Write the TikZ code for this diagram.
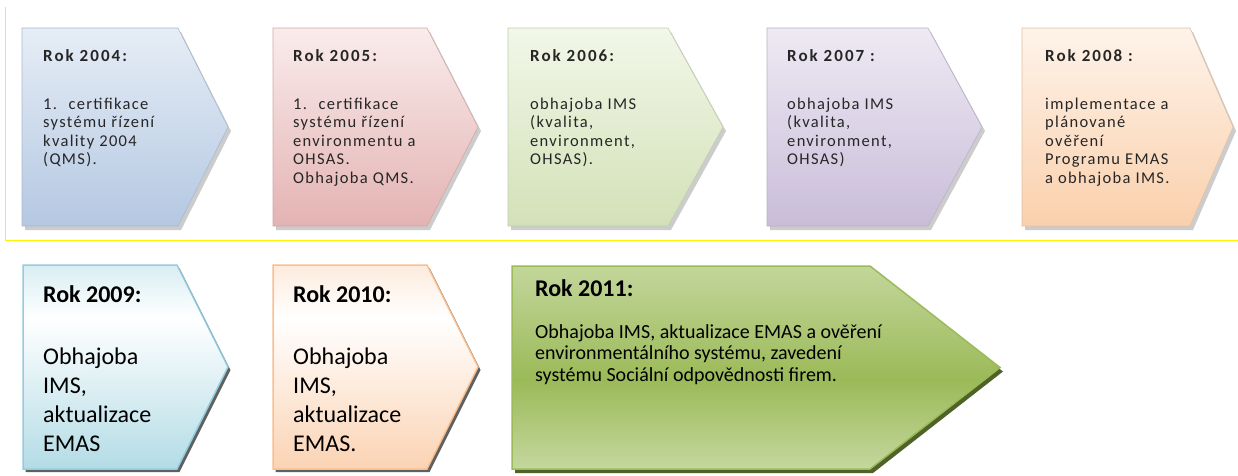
\documentclass[tikz,border=0pt]{standalone}
\usepackage{fontspec}
\setmainfont{Carlito}
\newfontfamily\topfont[LetterSpace=8]{Carlito}
\newfontfamily\topheadfont[LetterSpace=12]{Carlito}
\usetikzlibrary{positioning}

\definecolor{blueT}{HTML}{E6EDF6}
\definecolor{blueB}{HTML}{B4C8E2}
\definecolor{roseT}{HTML}{FAECEC}
\definecolor{roseB}{HTML}{E3B3B2}
\definecolor{limeT}{HTML}{F2F7E8}
\definecolor{limeB}{HTML}{D3E1B8}
\definecolor{lilaT}{HTML}{EEEAF4}
\definecolor{lilaB}{HTML}{C9BDD9}
\definecolor{peachT}{HTML}{FEF3EA}
\definecolor{peachB}{HTML}{FAD0AC}
\definecolor{aquaT}{HTML}{D8EEF3}
\definecolor{aquaB}{HTML}{B3DCE6}
\definecolor{aquaL}{HTML}{93CDDD}
\definecolor{sandT}{HTML}{FDEBDD}
\definecolor{sandB}{HTML}{FBD3B3}
\definecolor{sandL}{HTML}{F9BF8F}
\definecolor{leafT}{HTML}{C3D69B}
\definecolor{leafM}{HTML}{9BBA58}
\definecolor{leafB}{HTML}{C4D79E}
\definecolor{leafL}{HTML}{9BBB59}
\definecolor{leafS}{HTML}{4F6228}

\pgfdeclareverticalshading{shadenine}{100bp}{color(0bp)=(aquaB); color(25bp)=(aquaB); color(62bp)=(white); color(75bp)=(aquaT); color(100bp)=(aquaT)}
\pgfdeclareverticalshading{shadeten}{100bp}{color(0bp)=(sandB); color(25bp)=(sandB); color(62bp)=(white); color(75bp)=(sandT); color(100bp)=(sandT)}
\pgfdeclareverticalshading{shadeeleven}{100bp}{color(0bp)=(leafB); color(25bp)=(leafB); color(47bp)=(leafM); color(75bp)=(leafT); color(100bp)=(leafT)}

% left, top, right, tip, bottom, style
\newcommand{\yearbox}[6]{%
  \path[#6] (#1,#2) -- (#3,#2) -- (#4,{(#2+#5)/2}) -- (#3,#5) -- (#1,#5) -- cycle;}
% lines of text, baseline on the first one
\newcommand{\lines}[1]{\begin{tabular}[t]{@{}l@{}}#1\end{tabular}}

\tikzset{
  topshadow/.style={fill=black, opacity=0.2, shift={(3,4)}},
  botshadow/.style={fill=gray!75!black, shift={(2.5,3)}},
  topbox/.style 2 args={draw=#2!80!gray, line width=0.6pt, top color=#1, bottom color=#2},
  yearhead/.style={anchor=base west, inner sep=0pt, text=black!85,
    font=\topheadfont\bfseries\fontsize{17}{20}\selectfont},
  yeartext/.style={anchor=base west, inner sep=0pt, text=black!85,
    font=\topfont\fontsize{16.5}{18.5}\selectfont},
  bighead/.style={anchor=base west, inner sep=0pt,
    font=\bfseries\fontsize{24}{29}\selectfont},
  bigtext/.style={anchor=base west, inner sep=0pt,
    font=\fontsize{24}{29.3}\selectfont},
  widetext/.style={anchor=base west, inner sep=0pt,
    font=\fontsize{20}{21.5}\selectfont}
}

\begin{document}
\begin{tikzpicture}[x=1pt,y=-1pt]
\useasboundingbox (0,0) rectangle (1238,475);

% upper row
\yearbox{22}{28}{178}{228}{226}{topshadow}
\yearbox{273}{28}{427}{478}{226}{topshadow}
\yearbox{508}{28}{668}{723}{226}{topshadow}
\yearbox{767}{28}{928}{982}{226}{topshadow}
\yearbox{1022}{28}{1190}{1233}{226}{topshadow}
\yearbox{22}{28}{178}{228}{226}{topbox={blueT}{blueB}}
\yearbox{273}{28}{427}{478}{226}{topbox={roseT}{roseB}}
\yearbox{508}{28}{668}{723}{226}{topbox={limeT}{limeB}}
\yearbox{767}{28}{928}{982}{226}{topbox={lilaT}{lilaB}}
\yearbox{1022}{28}{1190}{1233}{226}{topbox={peachT}{peachB}}

\node[yearhead] (rok2004) at (43,61) {Rok 2004:};
\node[yeartext] (txt2004) at (43,109) {\lines{1.\hspace{0.7em}certifikace\\systému řízení\\kvality 2004\\(QMS).}};
\node[yearhead] (rok2005) at (293,61) {Rok 2005:};
\node[yeartext] (txt2005) at (293,109) {\lines{1.\hspace{0.7em}certifikace\\systému řízení\\environmentu a\\OHSAS.\\Obhajoba QMS.}};
\node[yearhead] (rok2006) at (530,61) {Rok 2006:};
\node[yeartext] (txt2006) at (530,109) {\lines{obhajoba IMS\\(kvalita,\\environment,\\OHSAS).}};
\node[yearhead] (rok2007) at (787,61) {Rok 2007 :};
\node[yeartext] (txt2007) at (787,109) {\lines{obhajoba IMS\\(kvalita,\\environment,\\OHSAS)}};
\node[yearhead] (rok2008) at (1045,61) {Rok 2008 :};
\node[yeartext] (txt2008) at (1045,109) {\lines{implementace a\\plánované\\ověření\\Programu EMAS\\a obhajoba IMS.}};

\draw[yellow, line width=1pt] (5,7) -- (5,240) -- (1238,240);

% lower row
\yearbox{23}{265}{177}{228}{469}{botshadow}
\yearbox{273}{265}{427}{478}{469}{botshadow}
\yearbox{512}{266}{870}{1000}{469}{fill=leafS, shift={(3,4)}}
\yearbox{23}{265}{177}{228}{469}{draw=aquaL, line width=1.5pt, shading=shadenine}
\yearbox{273}{265}{427}{478}{469}{draw=sandL, line width=1.5pt, shading=shadeten}
\yearbox{512}{266}{870}{1000}{469}{draw=leafL, line width=1.5pt, shading=shadeeleven}

\node[bighead] (rok2009) at (43,302) {Rok 2009:};
\node[bigtext] (txt2009) at (43,364) {\lines{Obhajoba\\IMS,\\aktualizace\\EMAS}};
\node[bighead] (rok2010) at (293,302) {Rok 2010:};
\node[bigtext] (txt2010) at (293,364) {\lines{Obhajoba\\IMS,\\aktualizace\\EMAS.}};
\node[bighead] (rok2011) at (535,296) {Rok 2011:};
\node[widetext] (txt2011) at (535,338) {\lines{Obhajoba IMS, aktualizace EMAS a ověření\\environmentálního systému, zavedení\\systému Sociální odpovědnosti firem.}};
\end{tikzpicture}
\end{document}
